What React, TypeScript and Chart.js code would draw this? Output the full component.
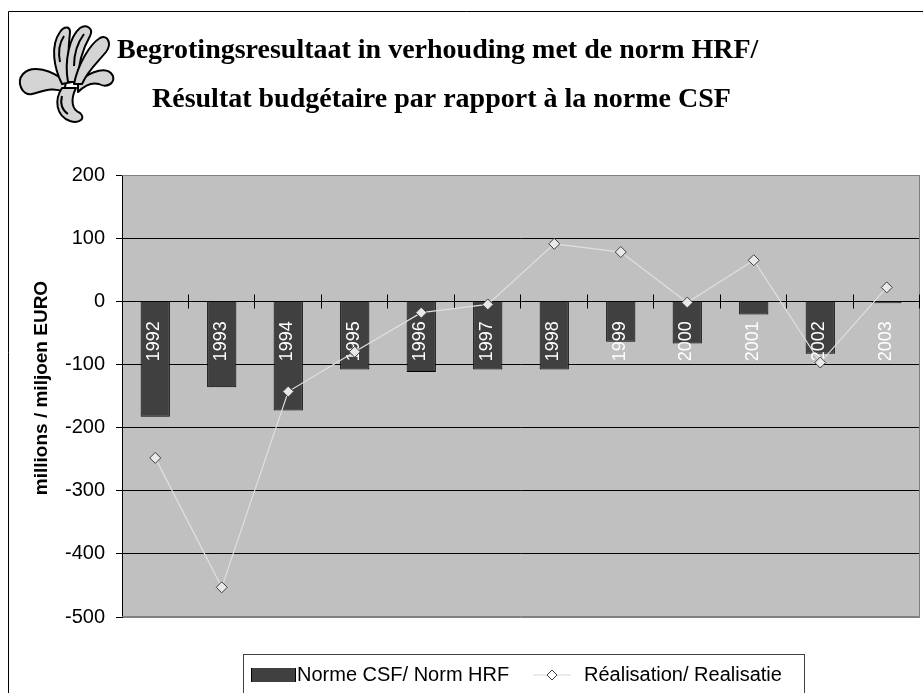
import React, { useEffect, useRef } from 'react';
import { Chart, registerables } from 'chart.js';

Chart.register(...registerables);

const years = ['1992', '1993', '1994', '1995', '1996', '1997', '1998', '1999', '2000', '2001', '2002', '2003'];
const normValues = [-183, -136, -173, -108, -112, -108, -108, -64, -67, -21, -83, -3];
const realValues = [-248, -453, -143, -80, -18, -5, 91, 78, -2, 65, -97, 22];
const yMin = -500;
const yMax = 200;
const yStep = 100;
const titleLines = ['Begrotingsresultaat in verhouding met de norm HRF/', 'Résultat budgétaire par rapport à la norme CSF'];
const yAxisTitle = 'millions / miljoen EURO';
const legendLabels = ['Norme CSF/ Norm HRF', 'Réalisation/ Realisatie'];

const SANS = '"Liberation Sans", Arial, sans-serif';
const SERIF = '"Liberation Serif", "Times New Roman", serif';

const PLOT_LEFT = 122;
const PLOT_RIGHT = 920;

function drawLogo(ctx: CanvasRenderingContext2D) {
  ctx.save();
  ctx.fillStyle = '#d4d4d4';
  ctx.strokeStyle = '#000';
  ctx.lineWidth = 2;
  ctx.lineJoin = 'round';
  // left leaf
  ctx.beginPath();
  ctx.moveTo(66, 82);
  ctx.bezierCurveTo(52, 70, 32, 64, 23, 74);
  ctx.bezierCurveTo(16, 82, 22, 96, 32, 94);
  ctx.bezierCurveTo(42, 92, 52, 86, 64, 92);
  ctx.closePath();
  ctx.fill();
  ctx.stroke();
  // right leaf
  ctx.beginPath();
  ctx.moveTo(78, 82);
  ctx.bezierCurveTo(92, 70, 108, 66, 113, 76);
  ctx.bezierCurveTo(115, 84, 106, 88, 99, 84);
  ctx.bezierCurveTo(92, 82, 84, 86, 78, 92);
  ctx.closePath();
  ctx.fill();
  ctx.stroke();
  // stem
  ctx.beginPath();
  ctx.moveTo(62, 88);
  ctx.bezierCurveTo(54, 100, 56, 116, 70, 121);
  ctx.bezierCurveTo(80, 124, 86, 118, 80, 113);
  ctx.bezierCurveTo(72, 110, 70, 100, 76, 88);
  ctx.closePath();
  ctx.fill();
  ctx.stroke();
  // left petal
  ctx.beginPath();
  ctx.moveTo(62, 84);
  ctx.bezierCurveTo(54, 68, 50, 46, 60, 32);
  ctx.bezierCurveTo(64, 26, 70, 26, 70, 32);
  ctx.bezierCurveTo(68, 48, 68, 66, 72, 82);
  ctx.closePath();
  ctx.fill();
  ctx.stroke();
  // middle petal
  ctx.beginPath();
  ctx.moveTo(68, 82);
  ctx.bezierCurveTo(64, 60, 70, 36, 80, 28);
  ctx.bezierCurveTo(86, 24, 94, 28, 90, 36);
  ctx.bezierCurveTo(82, 50, 78, 66, 78, 82);
  ctx.closePath();
  ctx.fill();
  ctx.stroke();
  // right petal
  ctx.beginPath();
  ctx.moveTo(74, 84);
  ctx.bezierCurveTo(78, 64, 90, 44, 100, 38);
  ctx.bezierCurveTo(108, 34, 112, 44, 106, 52);
  ctx.bezierCurveTo(98, 62, 88, 70, 82, 84);
  ctx.closePath();
  ctx.fill();
  ctx.stroke();
  // inner strokes
  ctx.beginPath();
  ctx.moveTo(60, 62);
  ctx.bezierCurveTo(58, 52, 60, 42, 64, 36);
  ctx.moveTo(74, 66);
  ctx.bezierCurveTo(74, 54, 78, 42, 84, 34);
  ctx.moveTo(62, 96);
  ctx.bezierCurveTo(60, 104, 62, 110, 68, 114);
  ctx.stroke();
  ctx.restore();
}

const customPlugin = {
  id: 'customDecor',
  beforeDraw(chart: any) {
    const ctx: CanvasRenderingContext2D = chart.ctx;
    const { left, top, right, bottom } = chart.chartArea;
    ctx.save();
    ctx.fillStyle = '#ffffff';
    ctx.fillRect(0, 0, chart.width, chart.height);
    // outer frame
    ctx.strokeStyle = '#000';
    ctx.lineWidth = 1;
    ctx.beginPath();
    ctx.moveTo(8.5, chart.height + 5);
    ctx.lineTo(8.5, 11.5);
    ctx.lineTo(chart.width + 5, 11.5);
    ctx.stroke();
    // plot background
    ctx.fillStyle = '#c0c0c0';
    ctx.fillRect(left, top, right - left, bottom - top);
    // title
    ctx.fillStyle = '#000';
    ctx.font = 'bold 28px ' + SERIF;
    ctx.textAlign = 'left';
    ctx.textBaseline = 'alphabetic';
    ctx.fillText(titleLines[0], 117, 58);
    ctx.fillText(titleLines[1], 152, 107);
    drawLogo(ctx);
    // y axis title
    ctx.save();
    ctx.translate(42, 388);
    ctx.rotate(-Math.PI / 2);
    ctx.font = 'bold 19px ' + SANS;
    ctx.textAlign = 'center';
    ctx.textBaseline = 'middle';
    ctx.fillStyle = '#000';
    ctx.fillText(yAxisTitle, 0, 0);
    ctx.restore();
    // legend
    ctx.strokeStyle = '#404040';
    ctx.lineWidth = 1;
    ctx.strokeRect(243.5, 654.5, 561, 60);
    ctx.fillStyle = '#404040';
    ctx.fillRect(251, 668, 45, 14);
    ctx.strokeStyle = '#000';
    ctx.beginPath();
    ctx.moveTo(251.5, 668);
    ctx.lineTo(251.5, 682);
    ctx.moveTo(295.5, 668);
    ctx.lineTo(295.5, 682);
    ctx.stroke();
    ctx.fillStyle = '#000';
    ctx.font = '20px ' + SANS;
    ctx.textBaseline = 'alphabetic';
    ctx.fillText(legendLabels[0], 297, 681);
    ctx.strokeStyle = '#d8d8d8';
    ctx.lineWidth = 1.2;
    ctx.beginPath();
    ctx.moveTo(533, 675);
    ctx.lineTo(571, 675);
    ctx.stroke();
    ctx.beginPath();
    ctx.moveTo(552, 670);
    ctx.lineTo(557, 675);
    ctx.lineTo(552, 680);
    ctx.lineTo(547, 675);
    ctx.closePath();
    ctx.fillStyle = '#ffffff';
    ctx.fill();
    ctx.strokeStyle = '#404040';
    ctx.lineWidth = 1;
    ctx.stroke();
    ctx.fillStyle = '#000';
    ctx.fillText(legendLabels[1], 584, 681);
    ctx.restore();
  },
  beforeDatasetsDraw(chart: any) {
    const ctx: CanvasRenderingContext2D = chart.ctx;
    const { left, top, right, bottom } = chart.chartArea;
    const y0 = Math.round(chart.scales.y.getPixelForValue(0)) + 0.5;
    ctx.save();
    ctx.strokeStyle = '#808080';
    ctx.lineWidth = 1;
    ctx.beginPath();
    ctx.moveTo(left, top + 0.5);
    ctx.lineTo(right - 0.5, top + 0.5);
    ctx.lineTo(right - 0.5, bottom - 0.5);
    ctx.lineTo(left, bottom - 0.5);
    ctx.stroke();
    ctx.strokeStyle = '#000';
    ctx.beginPath();
    const n = years.length;
    const w = (right - left) / n;
    for (let i = 1; i <= n; i++) {
      const x = Math.round(left + i * w) - 0.5;
      ctx.moveTo(x, y0 - 7);
      ctx.lineTo(x, y0 + 7);
    }
    ctx.stroke();
    ctx.restore();
  },
  afterDatasetDraw(chart: any, args: any) {
    if (args.index !== 0) return;
    const ctx: CanvasRenderingContext2D = chart.ctx;
    const y0 = chart.scales.y.getPixelForValue(0);
    ctx.save();
    ctx.fillStyle = '#ffffff';
    ctx.font = '18px ' + SANS;
    ctx.textAlign = 'right';
    ctx.textBaseline = 'middle';
    years.forEach((yr, i) => {
      const x = chart.scales.x.getPixelForValue(i);
      ctx.save();
      ctx.translate(x - 1, y0 + 20);
      ctx.rotate(-Math.PI / 2);
      ctx.fillText(yr, 0, 0);
      ctx.restore();
    });
    ctx.restore();
  },
};

export default function App() {
  const canvasRef = useRef<HTMLCanvasElement | null>(null);
  useEffect(() => {
    if (!canvasRef.current) return;
    const chart = new Chart(canvasRef.current, {
      type: 'bar',
      data: {
        labels: years,
        datasets: [
          {
            type: 'bar',
            label: legendLabels[0],
            data: normValues,
            backgroundColor: '#404040',
            borderColor: '#000000',
            borderWidth: 1,
            barPercentage: 0.44,
            categoryPercentage: 1,
            order: 1,
          },
          {
            type: 'line',
            label: legendLabels[1],
            data: realValues,
            borderColor: '#e0e0e0',
            borderWidth: 1.2,
            pointStyle: 'rectRot',
            pointRadius: 5.5,
            pointBackgroundColor: '#e8e8e8',
            pointBorderColor: '#404040',
            pointBorderWidth: 1,
            tension: 0,
            order: 0,
          } as any,
        ],
      },
      options: {
        responsive: false,
        animation: false,
        devicePixelRatio: 1,
        layout: { padding: { left: 0, right: 3, top: 175, bottom: 76 } },
        plugins: {
          legend: { display: false },
          tooltip: { enabled: false },
          title: { display: false },
        },
        scales: {
          x: {
            type: 'category',
            display: false,
            offset: true,
            afterFit: (s: any) => {
              s.paddingLeft = 0;
              s.paddingRight = 0;
            },
          },
          y: {
            min: yMin,
            max: yMax,
            afterFit: (s: any) => {
              s.width = PLOT_LEFT;
            },
            ticks: {
              stepSize: yStep,
              color: '#000',
              font: { family: SANS, size: 20 },
              padding: 11,
            },
            grid: {
              color: (c: any) => (c.tick && (c.tick.value === yMax || c.tick.value === yMin) ? '#808080' : '#000000'),
              lineWidth: 1,
              tickLength: 6,
              tickColor: '#000',
            },
            border: { display: true, color: '#000', width: 1 },
          },
        },
      },
      plugins: [
        {
          id: 'forceArea',
          afterLayout(chart: any) {
            const ca = chart.chartArea;
            if (ca.right < PLOT_RIGHT) {
              ca.right = PLOT_RIGHT;
              ca.width = ca.right - ca.left;
              const xs = chart.scales.x;
              xs.right = PLOT_RIGHT;
              xs.width = xs.right - xs.left;
              xs.configure();
              const ys = chart.scales.y;
              ys.configure && ys.configure();
            }
          },
        },
        customPlugin,
      ],
    });
    return () => chart.destroy();
  }, []);
  return (
    <div style={{ position: 'absolute', left: 0, top: 0, width: 923, height: 693, overflow: 'hidden' }}>
      <canvas ref={canvasRef} width={923} height={693} style={{ display: 'block', width: 923, height: 693 }} />
    </div>
  );
}
